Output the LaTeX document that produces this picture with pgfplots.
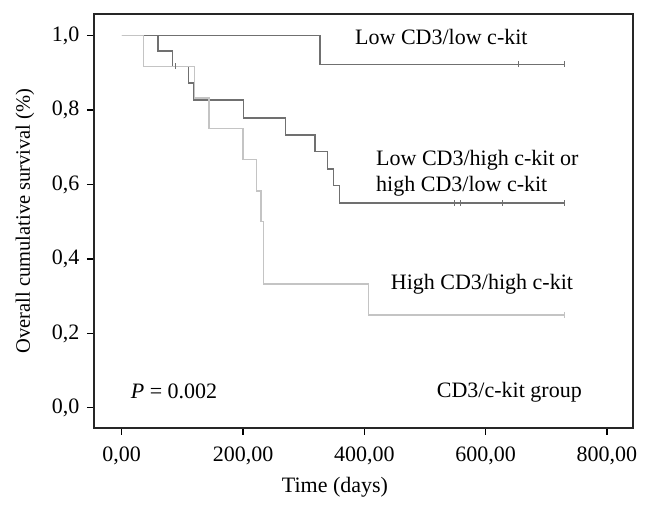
\documentclass[border=0pt]{standalone}
\usepackage{fontspec}
\setmainfont{Liberation Serif}
\usepackage{pgfplots}
\pgfplotsset{compat=1.18}
\usetikzlibrary{calc}

\definecolor{darkcurve}{RGB}{112,112,112}
\definecolor{lightcurve}{RGB}{196,196,196}

\begin{document}
\fontsize{22}{26}\selectfont
\begin{tikzpicture}
\begin{axis}[
    name=ax,
    scale only axis,
    width=539pt, height=414pt,
    xmin=-45.7, xmax=843,
    ymin=-0.054, ymax=1.058,
    xtick={0,200,400,600,800},
    ytick={0,0.2,0.4,0.6,0.8,1.0},
    xtick pos=left, ytick pos=left,
    tick align=outside,
    major tick length=7pt,
    every tick/.style={black, line width=1.2pt},
    axis line style={line width=1.3pt, black!85},
    /pgf/number format/assume math mode=true,
    xticklabel style={/pgf/number format/.cd, use comma, fixed, fixed zerofill, precision=2},
    yticklabel style={/pgf/number format/.cd, use comma, fixed, fixed zerofill, precision=1},
    xticklabel shift=4pt,
    scaled ticks=false,
    xlabel={Time (days)},
    ylabel={Overall cumulative survival (\%)},
    xlabel style={at={(axis description cs:0.447,-0.157)}, anchor=base},
    ylabel style={at={(axis description cs:-0.128,0.5)}, anchor=center, font=\fontsize{20.5}{24}\selectfont},
    clip=false,
]
% Low CD3/low c-kit
\addplot[const plot, darkcurve, line width=1.5pt] coordinates {
    (0,1) (327,0.923) (730,0.923)
};
\addplot[only marks, mark=|, mark size=3pt, darkcurve, mark options={line width=1pt}] coordinates {
    (654,0.923) (730,0.923)
};
% Low CD3/high c-kit or high CD3/low c-kit
\addplot[const plot, darkcurve, line width=1.5pt] coordinates {
    (0,1) (60,0.958) (83.5,0.917) (110,0.873) (118,0.827) (200.5,0.779)
    (270,0.733) (319,0.688) (339.5,0.641) (349,0.597) (359,0.55) (730,0.55)
};
\addplot[only marks, mark=|, mark size=3pt, darkcurve, mark options={line width=1pt}] coordinates {
    (89.5,0.917) (548,0.55) (559,0.55) (628,0.55) (730,0.55)
};
% High CD3/high c-kit
\addplot[const plot, lightcurve, line width=1.5pt] coordinates {
    (0,1) (36,0.917) (120,0.833) (144,0.75) (200,0.667) (222,0.583)
    (230,0.5) (233.5,0.333) (407,0.25) (730,0.25)
};
\addplot[only marks, mark=|, mark size=3pt, lightcurve, mark options={line width=1pt}] coordinates {
    (730,0.25)
};
\node[anchor=base west, inner sep=0pt] at (axis cs:384.7,0.975) {Low CD3/low c-kit};
\node[anchor=base west, inner sep=0pt] at (axis cs:419.3,0.652) {Low CD3/high c-kit or};
\node[anchor=base west, inner sep=0pt] at (axis cs:419.3,0.581) {high CD3/low c-kit};
\node[anchor=base west, inner sep=0pt] at (axis cs:443.5,0.317) {High CD3/high c-kit};
\node[anchor=base west, inner sep=0pt] at (axis cs:14.8,0.024) {\textit{P} = 0.002};
\node[anchor=base west, inner sep=0pt] at (axis cs:519.4,0.028) {CD3/c-kit group};
\end{axis}
\pgfresetboundingbox
\path ($(ax.south west)+(-94pt,-83pt)$) rectangle ($(ax.north east)+(15pt,14pt)$);
\end{tikzpicture}
\end{document}
